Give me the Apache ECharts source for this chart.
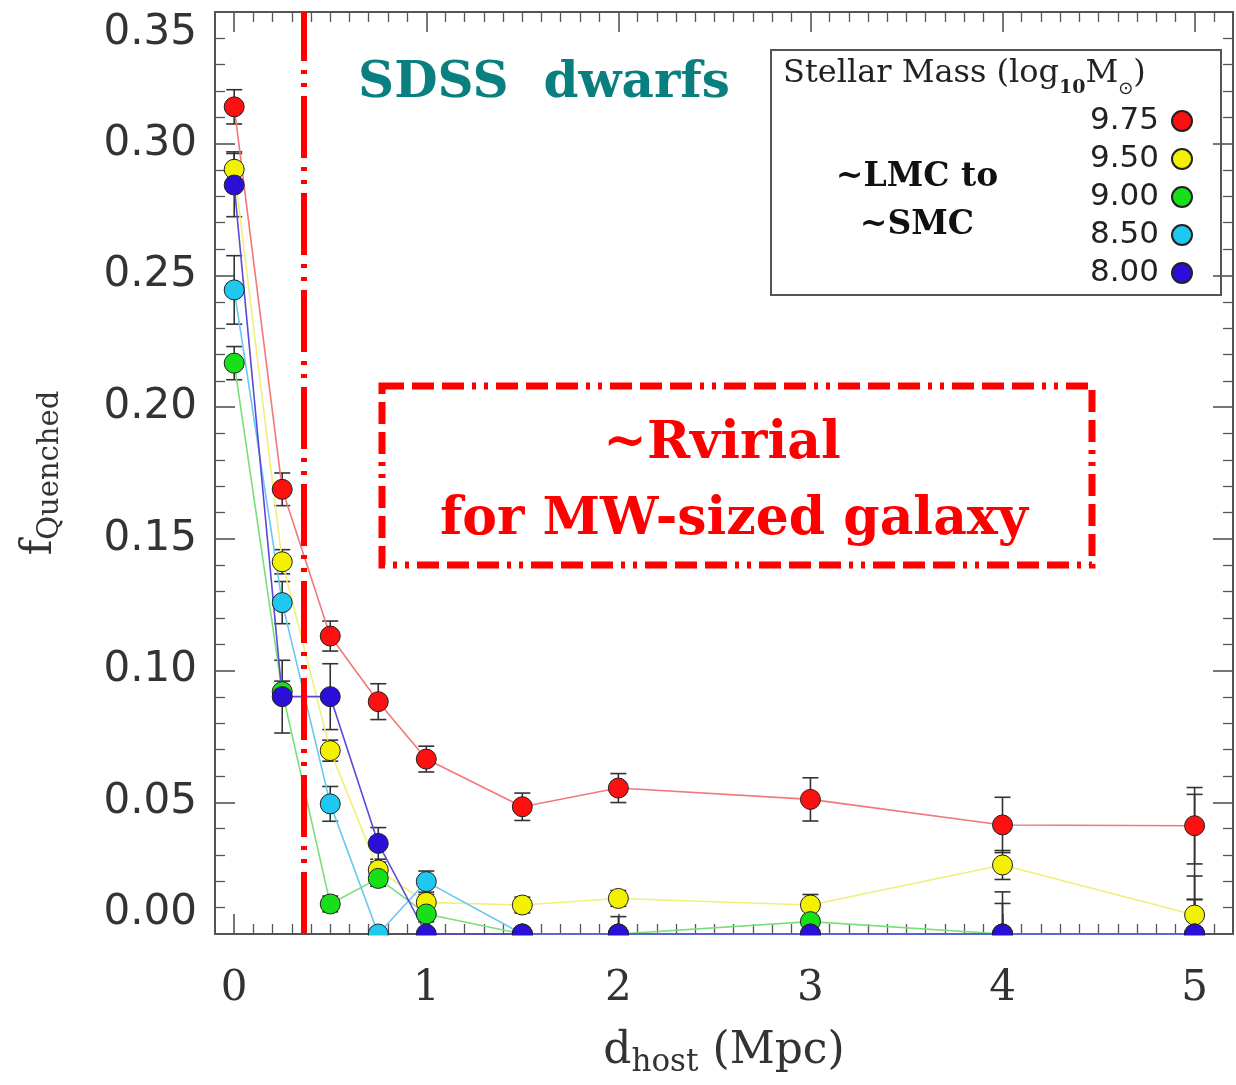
<!DOCTYPE html>
<html><head><meta charset="utf-8">
<script src="https://cdn.jsdelivr.net/npm/echarts@6.0.0/dist/echarts.min.js"></script>
<style>html,body{margin:0;padding:0;background:#fff}#c{width:1236px;height:1085px}</style>
</head><body><div id="c"></div>
<script>
// ---- data ----
const distances = [0, 0.25, 0.5, 0.75, 1, 1.5, 2, 3, 4, 5];          // d_host (Mpc)
const massLabels = ['9.75', '9.50', '9.00', '8.50', '8.00'];           // log10 M*
const fq975 = [0.314, 0.1688, 0.1131, 0.0882, 0.0664, 0.0483, 0.0554, 0.0511, 0.0414, 0.0411];
const err975 = [0.0065, 0.0062, 0.0057, 0.0068, 0.0049, 0.0052, 0.0055, 0.0082, 0.0105, 0.0145];
const fq950 = [0.2903, 0.1413, 0.0696, 0.0243, 0.012, 0.011, 0.0135, 0.011, 0.0262, 0.0072];
const err950 = [0.0066, 0.0046, 0.004, 0.003, 0.003, 0.003, 0.003, 0.004, 0.0055, 0.006];
const fq900 = [0.2167, 0.092, 0.0114, 0.0211, 0.0076, 0, 0, 0.0047, 0, 0];
const err900 = [0.0063, 0.004, 0.003, 0.003, 0.003, 0, 0, 0.0045, 0.0116, 0.013];
const fq850 = [0.2445, 0.1258, 0.0494, 0, 0.0199, 0, 0, 0, 0, 0];
const err850 = [0.013, 0.008, 0.0066, 0, 0.004, 0, 0, 0, 0.016, 0.022];
const fq800 = [0.2843, 0.0901, 0.0901, 0.0344, 0, 0, 0, 0, 0, 0];
const err800 = [0.012, 0.0138, 0.0125, 0.006, 0, 0, 0.0066, 0, 0, 0.053];
const rvirLine = 0.364;   // ~R_virial marker (Mpc)
const yMin = 0, yMax = 0.35, yStep = 0.05;
const xMin = -0.1, xMax = 5.2;

const colors = ['#ff1010', '#f2f200', '#18e018', '#1ec8f0', '#2a0fd8'];
const lineColors = ['#f27878', '#f0f078', '#78e078', '#68c8f0', '#5a4ad8'];
const allVals = [fq975, fq950, fq900, fq850, fq800];
const allErrs = [err975, err950, err900, err850, err800];

function errSeries(vals, errs, name) {
  return {
    type: 'custom', name: name + ' err', silent: true, z: 2,
    data: distances.map((d, i) => [d, Math.max(0, vals[i] - errs[i]), vals[i] + errs[i], errs[i], vals[i] - errs[i] > 0 ? 1 : 0]),
    encode: { x: 0, y: [1, 2] },
    renderItem(params, api) {
      if (api.value(3) <= 0) return null;
      const lo = api.coord([api.value(0), api.value(1)]);
      const hi = api.coord([api.value(0), api.value(2)]);
      const w = 8, st = { stroke: '#333', lineWidth: 1.6 };
      const ch = [
        { type: 'line', shape: { x1: lo[0], y1: lo[1], x2: hi[0], y2: hi[1] }, style: st },
        { type: 'line', shape: { x1: hi[0] - w, y1: hi[1], x2: hi[0] + w, y2: hi[1] }, style: st }
      ];
      if (api.value(4) > 0) ch.push({ type: 'line', shape: { x1: lo[0] - w, y1: lo[1], x2: lo[0] + w, y2: lo[1] }, style: st });
      return { type: 'group', children: ch };
    }
  };
}

const series = [];
massLabels.forEach((m, k) => {
  series.push(errSeries(allVals[k], allErrs[k], m));
  const s = {
    type: 'line', name: m, z: 2, clip: false,
    data: distances.map((d, i) => [d, allVals[k][i]]),
    symbol: 'circle', symbolSize: 20,
    itemStyle: { color: colors[k], borderColor: '#222', borderWidth: 1 },
    lineStyle: { color: lineColors[k], width: 1.6 },
    emphasis: { disabled: true }, animation: false
  };
  if (k === massLabels.length - 1) {
    s.markLine = {
      silent: true, symbol: 'none', label: { show: false }, animation: false,
      lineStyle: { color: '#ff0000', width: 6, type: [62, 9, 4, 9, 4, 9] },
      data: [{ xAxis: rvirLine }]
    };
  }
  series.push(s);
});

const axisCol = '#555';
const tickCommon = (len, split) => ({
  axisLine: { show: true, onZero: false, lineStyle: { color: axisCol, width: 2 } },
  axisTick: { show: true, inside: true, length: len, lineStyle: { color: axisCol, width: 1.6 } },
  minorTick: { show: true, splitNumber: split, length: 10, lineStyle: { color: axisCol, width: 1.3 } },
  splitLine: { show: false }
});

const chart = echarts.init(document.getElementById('c'), null, { renderer: 'canvas' });
const option = {
  animation: false,
  backgroundColor: '#fff',
  grid: { left: 215, right: 0, top: 12, bottom: 151, show: false },
  xAxis: [
    Object.assign({
      type: 'value', min: xMin, max: xMax, splitNumber: 5, position: 'bottom',
      axisLabel: {
        margin: 34, fontFamily: 'DejaVu Serif', fontSize: 42, color: '#333',
        formatter: v => (Math.abs(v - Math.round(v)) < 1e-9 ? String(Math.round(v)) : '')
      },
      name: '{d|d}{h|host}{m| (Mpc)}', nameLocation: 'middle', nameGap: 96,
      nameTextStyle: { rich: {
        d: { fontFamily: 'DejaVu Serif', fontSize: 44, color: '#333', lineHeight: 48, verticalAlign: 'top' },
        h: { fontFamily: 'DejaVu Serif', fontSize: 31, color: '#333', lineHeight: 28, verticalAlign: 'bottom' },
        m: { fontFamily: 'DejaVu Serif', fontSize: 44, color: '#333', lineHeight: 48, verticalAlign: 'top' }
      } }
    }, tickCommon(20, 10)),
    Object.assign({
      type: 'value', min: xMin, max: xMax, splitNumber: 5, position: 'top',
      axisLabel: { show: false }
    }, tickCommon(20, 10))
  ],
  yAxis: [
    Object.assign({
      type: 'value', min: yMin, max: yMax, interval: yStep, position: 'left',
      axisLabel: {
        margin: 18, fontFamily: 'DejaVu Sans', fontSize: 42, color: '#333',
        formatter: v => v.toFixed(2),
        verticalAlignMinLabel: 'bottom', verticalAlignMaxLabel: 'top'
      },
      name: '{f|f}{q|Quenched}', nameLocation: 'middle', nameRotate: 90, nameGap: 150,
      nameTextStyle: { rich: {
        f: { fontFamily: 'DejaVu Serif', fontSize: 42, color: '#333', lineHeight: 46, verticalAlign: 'top' },
        q: { fontFamily: 'DejaVu Serif', fontSize: 29, color: '#333', lineHeight: 26, verticalAlign: 'bottom' }
      } }
    }, tickCommon(20, 5)),
    Object.assign({
      type: 'value', min: yMin, max: yMax, interval: yStep, position: 'right',
      axisLabel: { show: false }
    }, tickCommon(20, 5))
  ],
  legend: {
    data: massLabels, orient: 'vertical', align: 'right', right: 38, top: 97,
    icon: 'circle', itemWidth: 20, itemHeight: 20, itemGap: 0, selectedMode: false,
    textStyle: { fontFamily: 'DejaVu Sans', fontSize: 31, color: '#222', lineHeight: 38, padding: [0, 8, 0, 0] }
  },
  series: series,
  graphic: [
    { type: 'rect', z: 10, silent: true, shape: { x: 771, y: 50, width: 450, height: 245 },
      style: { fill: 'none', stroke: '#555', lineWidth: 2 } },
    { type: 'text', z: 10, silent: true, x: 783, y: 58,
      style: {
        text: '{a|Stellar Mass (log}{s|10}{a|M}{o|⊙}{a|)}',
        rich: {
          a: { fontFamily: 'DejaVu Serif', fontSize: 32, fill: '#222', lineHeight: 40, verticalAlign: 'top' },
          s: { fontFamily: 'DejaVu Serif', fontWeight: 'bold', fontSize: 19, fill: '#222', lineHeight: 24, verticalAlign: 'bottom' },
          o: { fontFamily: 'DejaVu Sans', fontSize: 18, fill: '#222', lineHeight: 30, verticalAlign: 'bottom' }
        }
      } },
    { type: 'text', z: 10, silent: true, x: 917, y: 177,
      style: { text: '~LMC to', fontFamily: 'DejaVu Serif', fontWeight: 'bold', fontSize: 33, fill: '#111',
        align: 'center', verticalAlign: 'middle', textShadowColor: 'rgba(0,0,0,0.35)', textShadowOffsetX: 1.5, textShadowOffsetY: 1.5 } },
    { type: 'text', z: 10, silent: true, x: 917, y: 225,
      style: { text: '~SMC', fontFamily: 'DejaVu Serif', fontWeight: 'bold', fontSize: 33, fill: '#111',
        align: 'center', verticalAlign: 'middle', textShadowColor: 'rgba(0,0,0,0.35)', textShadowOffsetX: 1.5, textShadowOffsetY: 1.5 } },
    { type: 'text', z: 10, silent: true, x: 544, y: 84,
      style: { text: 'SDSS  dwarfs', fontFamily: 'DejaVu Serif', fontWeight: 'bold', fontSize: 50, fill: '#0a7f7f',
        align: 'center', verticalAlign: 'middle', textShadowColor: '#000', textShadowOffsetX: 3, textShadowOffsetY: 3 } },
    { type: 'rect', z: 10, silent: true, shape: { x: 382, y: 386, width: 710, height: 179 },
      style: { fill: 'none', stroke: '#ff0000', lineWidth: 7, lineDash: [22, 8, 22, 8, 22, 8, 4, 8, 4, 8] } },
    { type: 'text', z: 10, silent: true, x: 722, y: 444,
      style: { text: '~Rvirial', fontFamily: 'DejaVu Serif', fontWeight: 'bold', fontSize: 52, fill: '#ff0000',
        align: 'center', verticalAlign: 'middle', textShadowColor: '#000', textShadowOffsetX: 3, textShadowOffsetY: 3 } },
    { type: 'text', z: 10, silent: true, x: 734, y: 520,
      style: { text: 'for MW-sized galaxy', fontFamily: 'DejaVu Serif', fontWeight: 'bold', fontSize: 52, fill: '#ff0000',
        align: 'center', verticalAlign: 'middle', textShadowColor: '#000', textShadowOffsetX: 3, textShadowOffsetY: 3 } }
  ]
};
chart.setOption(option);
// mask the lower halves of the symbols sitting on the bottom axis (they are clipped in the reference)
const y0 = chart.convertToPixel({ yAxisIndex: 0 }, yMin);
const xL = chart.convertToPixel({ xAxisIndex: 0 }, xMin);
option.graphic.push({ type: 'rect', z: 100, silent: true,
  shape: { x: xL + 1, y: y0 + 1.5, width: 1236 - xL, height: 16 }, style: { fill: '#fff' } });
chart.setOption({ graphic: option.graphic });
</script></body></html>
